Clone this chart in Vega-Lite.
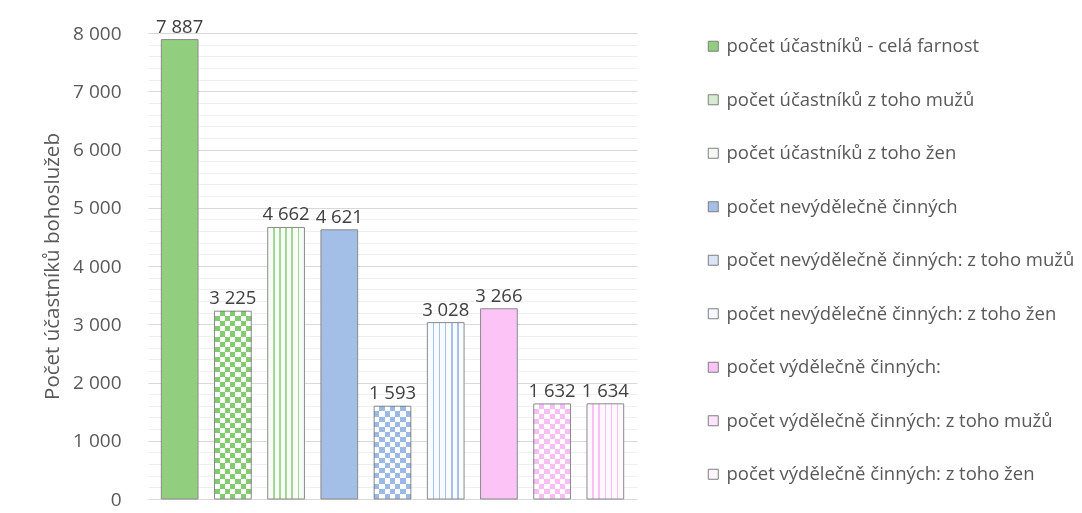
{
  "$schema": "https://vega.github.io/schema/vega-lite/v6.json",
  "width": 489,
  "height": 466,
  "autosize": {"type": "none"},
  "padding": {"left": 148, "top": 33, "right": 445, "bottom": 14},
  "background": "white",
  "config": {
    "view": {"stroke": null},
    "font": "Open Sans",
    "locale": {"number": {"decimal": ",", "thousands": " ", "grouping": [3], "currency": ["", ""]}}
  },
  "data": {"values": [
    {"cat": "počet účastníků - celá farnost", "kind": "solid", "value": 7887},
    {"cat": "počet účastníků z toho mužů", "kind": "checker", "value": 3225},
    {"cat": "počet účastníků z toho žen", "kind": "stripe", "value": 4662},
    {"cat": "počet nevýdělečně činných", "kind": "solid", "value": 4621},
    {"cat": "počet nevýdělečně činných: z toho mužů", "kind": "checker", "value": 1593},
    {"cat": "počet nevýdělečně činných: z toho žen", "kind": "stripe", "value": 3028},
    {"cat": "počet výdělečně činných:", "kind": "solid", "value": 3266},
    {"cat": "počet výdělečně činných: z toho mužů", "kind": "checker", "value": 1632},
    {"cat": "počet výdělečně činných: z toho žen", "kind": "stripe", "value": 1634}
  ]},
  "encoding": {
    "x": {"field": "cat", "type": "nominal", "sort": null,
      "scale": {"domain": ["počet účastníků - celá farnost", "počet účastníků z toho mužů", "počet účastníků z toho žen", "počet nevýdělečně činných", "počet nevýdělečně činných: z toho mužů", "počet nevýdělečně činných: z toho žen", "počet výdělečně činných:", "počet výdělečně činných: z toho mužů", "počet výdělečně činných: z toho žen"], "paddingInner": 0.31, "paddingOuter": 0.25},
      "axis": null},
    "y": {"field": "value", "type": "quantitative",
      "scale": {"domain": [0, 8000], "nice": false},
      "axis": {
        "title": "Počet účastníků bohoslužeb",
        "values": [0,200,400,600,800,1000,1200,1400,1600,1800,2000,2200,2400,2600,2800,3000,3200,3400,3600,3800,4000,4200,4400,4600,4800,5000,5200,5400,5600,5800,6000,6200,6400,6600,6800,7000,7200,7400,7600,7800,8000],
        "format": ",d",
        "labelExpr": "datum.value % 1000 === 0 ? datum.label : ''",
        "labelOverlap": false,
        "ticks": false,
        "tickSize": 0,
        "domain": false,
        "grid": true,
        "gridColor": {"condition": {"test": "datum.value % 1000 === 0", "value": "#d9d9d9"}, "value": "#efefef"},
        "gridWidth": 1,
        "labelFont": "Open Sans",
        "labelFontSize": 19,
        "labelColor": "#595959",
        "labelPadding": 27,
        "titleFont": "Open Sans",
        "titleFontSize": 20.5,
        "titleFontWeight": "normal",
        "titleColor": "#595959",
        "titlePadding": 10
      }
    }
  },
  "layer": [
    {
      "mark": {"type": "bar"},
      "encoding": {
        "color": {"field": "cat", "type": "nominal",
          "scale": {"domain": ["počet účastníků - celá farnost", "počet účastníků z toho mužů", "počet účastníků z toho žen", "počet nevýdělečně činných", "počet nevýdělečně činných: z toho mužů", "počet nevýdělečně činných: z toho žen", "počet výdělečně činných:", "počet výdělečně činných: z toho mužů", "počet výdělečně činných: z toho žen"],
            "range": ["#91cf7f", "#d6ecd0", "#f3faf1", "#a4bfe7", "#d9e4f5", "#f4f8fd", "#fbc3f6", "#fde3fb", "#fef5fd"]},
          "legend": {
            "title": null, "orient": "none", "legendX": 556, "legendY": 4,
            "symbolType": "square", "symbolSize": 100, "symbolStrokeColor": "#7f7f7f", "symbolStrokeWidth": 1, "symbolOpacity": 1,
            "labelFont": "Open Sans", "labelFontSize": 18.5, "labelColor": "#595959", "labelOffset": 4, "labelLimit": 420,
            "rowPadding": 34.5
          }
        }
      }
    },
    {
      "transform": [{"filter": "datum.cat === 'počet účastníků z toho žen'"}],
      "mark": {"type": "bar", "fill": {"gradient": "linear", "x1": 0, "x2": 1, "y1": 0, "y2": 0, "stops": [
        {"offset": 0, "color": "#f8fcf7"}, {"offset": 0.147, "color": "#f8fcf7"}, {"offset": 0.147, "color": "#a3d694"}, {"offset": 0.187, "color": "#a3d694"}, {"offset": 0.187, "color": "#f8fcf7"},
        {"offset": 0.313, "color": "#f8fcf7"}, {"offset": 0.313, "color": "#a3d694"}, {"offset": 0.353, "color": "#a3d694"}, {"offset": 0.353, "color": "#f8fcf7"},
        {"offset": 0.48, "color": "#f8fcf7"}, {"offset": 0.48, "color": "#a3d694"}, {"offset": 0.52, "color": "#a3d694"}, {"offset": 0.52, "color": "#f8fcf7"},
        {"offset": 0.647, "color": "#f8fcf7"}, {"offset": 0.647, "color": "#a3d694"}, {"offset": 0.687, "color": "#a3d694"}, {"offset": 0.687, "color": "#f8fcf7"},
        {"offset": 0.813, "color": "#f8fcf7"}, {"offset": 0.813, "color": "#a3d694"}, {"offset": 0.853, "color": "#a3d694"}, {"offset": 0.853, "color": "#f8fcf7"},
        {"offset": 1, "color": "#f8fcf7"}]}}
    },
    {
      "transform": [{"filter": "datum.cat === 'počet nevýdělečně činných: z toho žen'"}],
      "mark": {"type": "bar", "fill": {"gradient": "linear", "x1": 0, "x2": 1, "y1": 0, "y2": 0, "stops": [
        {"offset": 0, "color": "#f8fbff"}, {"offset": 0.147, "color": "#f8fbff"}, {"offset": 0.147, "color": "#a6c2ea"}, {"offset": 0.187, "color": "#a6c2ea"}, {"offset": 0.187, "color": "#f8fbff"},
        {"offset": 0.313, "color": "#f8fbff"}, {"offset": 0.313, "color": "#a6c2ea"}, {"offset": 0.353, "color": "#a6c2ea"}, {"offset": 0.353, "color": "#f8fbff"},
        {"offset": 0.48, "color": "#f8fbff"}, {"offset": 0.48, "color": "#a6c2ea"}, {"offset": 0.52, "color": "#a6c2ea"}, {"offset": 0.52, "color": "#f8fbff"},
        {"offset": 0.647, "color": "#f8fbff"}, {"offset": 0.647, "color": "#a6c2ea"}, {"offset": 0.687, "color": "#a6c2ea"}, {"offset": 0.687, "color": "#f8fbff"},
        {"offset": 0.813, "color": "#f8fbff"}, {"offset": 0.813, "color": "#a6c2ea"}, {"offset": 0.853, "color": "#a6c2ea"}, {"offset": 0.853, "color": "#f8fbff"},
        {"offset": 1, "color": "#f8fbff"}]}}
    },
    {
      "transform": [{"filter": "datum.cat === 'počet výdělečně činných: z toho žen'"}],
      "mark": {"type": "bar", "fill": {"gradient": "linear", "x1": 0, "x2": 1, "y1": 0, "y2": 0, "stops": [
        {"offset": 0, "color": "#fff8fe"}, {"offset": 0.147, "color": "#fff8fe"}, {"offset": 0.147, "color": "#f7c2f3"}, {"offset": 0.187, "color": "#f7c2f3"}, {"offset": 0.187, "color": "#fff8fe"},
        {"offset": 0.313, "color": "#fff8fe"}, {"offset": 0.313, "color": "#f7c2f3"}, {"offset": 0.353, "color": "#f7c2f3"}, {"offset": 0.353, "color": "#fff8fe"},
        {"offset": 0.48, "color": "#fff8fe"}, {"offset": 0.48, "color": "#f7c2f3"}, {"offset": 0.52, "color": "#f7c2f3"}, {"offset": 0.52, "color": "#fff8fe"},
        {"offset": 0.647, "color": "#fff8fe"}, {"offset": 0.647, "color": "#f7c2f3"}, {"offset": 0.687, "color": "#f7c2f3"}, {"offset": 0.687, "color": "#fff8fe"},
        {"offset": 0.813, "color": "#fff8fe"}, {"offset": 0.813, "color": "#f7c2f3"}, {"offset": 0.853, "color": "#f7c2f3"}, {"offset": 0.853, "color": "#fff8fe"},
        {"offset": 1, "color": "#fff8fe"}]}}
    },
    {
      "transform": [{"filter": "datum.kind === 'checker'"}],
      "mark": {"type": "bar", "fill": {"gradient": "linear", "x1": 0, "x2": 1, "y1": 0, "y2": 0, "stops": [
        {"offset": 0, "color": "#fff"}, {"offset": 0.142857, "color": "#fff"},
        {"offset": 0.142857, "color": "#000"}, {"offset": 0.285714, "color": "#000"},
        {"offset": 0.285714, "color": "#fff"}, {"offset": 0.428571, "color": "#fff"},
        {"offset": 0.428571, "color": "#000"}, {"offset": 0.571429, "color": "#000"},
        {"offset": 0.571429, "color": "#fff"}, {"offset": 0.714286, "color": "#fff"},
        {"offset": 0.714286, "color": "#000"}, {"offset": 0.857143, "color": "#000"},
        {"offset": 0.857143, "color": "#fff"}, {"offset": 1, "color": "#fff"}]}}
    },
    {
      "transform": [{"filter": "datum.cat === 'počet účastníků z toho mužů'"}],
      "mark": {"type": "bar", "blend": "difference", "fill": {"gradient": "linear", "x1": 0, "x2": 0, "y1": 0, "y2": 1, "stops": [
        {"offset":0,"color":"#000"},{"offset":0.02703,"color":"#000"},
        {"offset":0.02703,"color":"#fff"},{"offset":0.05405,"color":"#fff"},
        {"offset":0.05405,"color":"#000"},{"offset":0.08108,"color":"#000"},
        {"offset":0.08108,"color":"#fff"},{"offset":0.10811,"color":"#fff"},
        {"offset":0.10811,"color":"#000"},{"offset":0.13514,"color":"#000"},
        {"offset":0.13514,"color":"#fff"},{"offset":0.16216,"color":"#fff"},
        {"offset":0.16216,"color":"#000"},{"offset":0.18919,"color":"#000"},
        {"offset":0.18919,"color":"#fff"},{"offset":0.21622,"color":"#fff"},
        {"offset":0.21622,"color":"#000"},{"offset":0.24324,"color":"#000"},
        {"offset":0.24324,"color":"#fff"},{"offset":0.27027,"color":"#fff"},
        {"offset":0.27027,"color":"#000"},{"offset":0.2973,"color":"#000"},
        {"offset":0.2973,"color":"#fff"},{"offset":0.32432,"color":"#fff"},
        {"offset":0.32432,"color":"#000"},{"offset":0.35135,"color":"#000"},
        {"offset":0.35135,"color":"#fff"},{"offset":0.37838,"color":"#fff"},
        {"offset":0.37838,"color":"#000"},{"offset":0.40541,"color":"#000"},
        {"offset":0.40541,"color":"#fff"},{"offset":0.43243,"color":"#fff"},
        {"offset":0.43243,"color":"#000"},{"offset":0.45946,"color":"#000"},
        {"offset":0.45946,"color":"#fff"},{"offset":0.48649,"color":"#fff"},
        {"offset":0.48649,"color":"#000"},{"offset":0.51351,"color":"#000"},
        {"offset":0.51351,"color":"#fff"},{"offset":0.54054,"color":"#fff"},
        {"offset":0.54054,"color":"#000"},{"offset":0.56757,"color":"#000"},
        {"offset":0.56757,"color":"#fff"},{"offset":0.59459,"color":"#fff"},
        {"offset":0.59459,"color":"#000"},{"offset":0.62162,"color":"#000"},
        {"offset":0.62162,"color":"#fff"},{"offset":0.64865,"color":"#fff"},
        {"offset":0.64865,"color":"#000"},{"offset":0.67568,"color":"#000"},
        {"offset":0.67568,"color":"#fff"},{"offset":0.7027,"color":"#fff"},
        {"offset":0.7027,"color":"#000"},{"offset":0.72973,"color":"#000"},
        {"offset":0.72973,"color":"#fff"},{"offset":0.75676,"color":"#fff"},
        {"offset":0.75676,"color":"#000"},{"offset":0.78378,"color":"#000"},
        {"offset":0.78378,"color":"#fff"},{"offset":0.81081,"color":"#fff"},
        {"offset":0.81081,"color":"#000"},{"offset":0.83784,"color":"#000"},
        {"offset":0.83784,"color":"#fff"},{"offset":0.86486,"color":"#fff"},
        {"offset":0.86486,"color":"#000"},{"offset":0.89189,"color":"#000"},
        {"offset":0.89189,"color":"#fff"},{"offset":0.91892,"color":"#fff"},
        {"offset":0.91892,"color":"#000"},{"offset":0.94595,"color":"#000"},
        {"offset":0.94595,"color":"#fff"},{"offset":0.97297,"color":"#fff"},
        {"offset":0.97297,"color":"#000"},{"offset":1,"color":"#000"}]}}
    },
    {
      "transform": [{"filter": "datum.cat === 'počet nevýdělečně činných: z toho mužů'"}],
      "mark": {"type": "bar", "blend": "difference", "fill": {"gradient": "linear", "x1": 0, "x2": 0, "y1": 0, "y2": 1, "stops": [
        {"offset":0,"color":"#000"},{"offset":0.05556,"color":"#000"},
        {"offset":0.05556,"color":"#fff"},{"offset":0.11111,"color":"#fff"},
        {"offset":0.11111,"color":"#000"},{"offset":0.16667,"color":"#000"},
        {"offset":0.16667,"color":"#fff"},{"offset":0.22222,"color":"#fff"},
        {"offset":0.22222,"color":"#000"},{"offset":0.27778,"color":"#000"},
        {"offset":0.27778,"color":"#fff"},{"offset":0.33333,"color":"#fff"},
        {"offset":0.33333,"color":"#000"},{"offset":0.38889,"color":"#000"},
        {"offset":0.38889,"color":"#fff"},{"offset":0.44444,"color":"#fff"},
        {"offset":0.44444,"color":"#000"},{"offset":0.5,"color":"#000"},
        {"offset":0.5,"color":"#fff"},{"offset":0.55556,"color":"#fff"},
        {"offset":0.55556,"color":"#000"},{"offset":0.61111,"color":"#000"},
        {"offset":0.61111,"color":"#fff"},{"offset":0.66667,"color":"#fff"},
        {"offset":0.66667,"color":"#000"},{"offset":0.72222,"color":"#000"},
        {"offset":0.72222,"color":"#fff"},{"offset":0.77778,"color":"#fff"},
        {"offset":0.77778,"color":"#000"},{"offset":0.83333,"color":"#000"},
        {"offset":0.83333,"color":"#fff"},{"offset":0.88889,"color":"#fff"},
        {"offset":0.88889,"color":"#000"},{"offset":0.94444,"color":"#000"},
        {"offset":0.94444,"color":"#fff"},{"offset":1,"color":"#fff"}]}}
    },
    {
      "transform": [{"filter": "datum.cat === 'počet výdělečně činných: z toho mužů'"}],
      "mark": {"type": "bar", "blend": "difference", "fill": {"gradient": "linear", "x1": 0, "x2": 0, "y1": 0, "y2": 1, "stops": [
        {"offset":0,"color":"#000"},{"offset":0.05263,"color":"#000"},
        {"offset":0.05263,"color":"#fff"},{"offset":0.10526,"color":"#fff"},
        {"offset":0.10526,"color":"#000"},{"offset":0.15789,"color":"#000"},
        {"offset":0.15789,"color":"#fff"},{"offset":0.21053,"color":"#fff"},
        {"offset":0.21053,"color":"#000"},{"offset":0.26316,"color":"#000"},
        {"offset":0.26316,"color":"#fff"},{"offset":0.31579,"color":"#fff"},
        {"offset":0.31579,"color":"#000"},{"offset":0.36842,"color":"#000"},
        {"offset":0.36842,"color":"#fff"},{"offset":0.42105,"color":"#fff"},
        {"offset":0.42105,"color":"#000"},{"offset":0.47368,"color":"#000"},
        {"offset":0.47368,"color":"#fff"},{"offset":0.52632,"color":"#fff"},
        {"offset":0.52632,"color":"#000"},{"offset":0.57895,"color":"#000"},
        {"offset":0.57895,"color":"#fff"},{"offset":0.63158,"color":"#fff"},
        {"offset":0.63158,"color":"#000"},{"offset":0.68421,"color":"#000"},
        {"offset":0.68421,"color":"#fff"},{"offset":0.73684,"color":"#fff"},
        {"offset":0.73684,"color":"#000"},{"offset":0.78947,"color":"#000"},
        {"offset":0.78947,"color":"#fff"},{"offset":0.84211,"color":"#fff"},
        {"offset":0.84211,"color":"#000"},{"offset":0.89474,"color":"#000"},
        {"offset":0.89474,"color":"#fff"},{"offset":0.94737,"color":"#fff"},
        {"offset":0.94737,"color":"#000"},{"offset":1,"color":"#000"}]}}
    },
    {
      "transform": [{"filter": "datum.cat === 'počet účastníků z toho mužů'"}],
      "mark": {"type": "bar", "blend": "lighten", "fill": "#83cb70"}
    },
    {
      "transform": [{"filter": "datum.cat === 'počet nevýdělečně činných: z toho mužů'"}],
      "mark": {"type": "bar", "blend": "lighten", "fill": "#9cb9e5"}
    },
    {
      "transform": [{"filter": "datum.cat === 'počet výdělečně činných: z toho mužů'"}],
      "mark": {"type": "bar", "blend": "lighten", "fill": "#f9bff4"}
    },
    {
      "mark": {"type": "bar", "fill": "transparent", "stroke": "#8a8a8a", "strokeWidth": 1}
    },
    {
      "mark": {"type": "text", "baseline": "alphabetic", "dy": -7, "font": "Open Sans", "fontSize": 18.5, "color": "#404040"},
      "encoding": {"text": {"field": "value", "type": "quantitative", "format": ",d"}}
    }
  ]
}
